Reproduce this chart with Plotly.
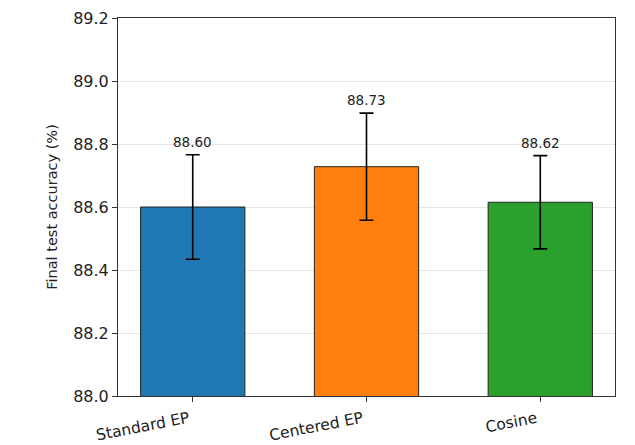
import plotly.graph_objects as go

methods = ["Standard EP", "Centered EP", "Cosine"]
means = [88.60, 88.728, 88.615]
stds = [0.166, 0.170, 0.148]
labels = ["88.60", "88.73", "88.62"]
colors = ["#1f77b4", "#ff7f0e", "#2ca02c"]
yticks = [88.0, 88.2, 88.4, 88.6, 88.8, 89.0, 89.2]

FONT = "DejaVu Sans"

fig = go.Figure()
fig.add_trace(go.Bar(
    x=[0, 1, 2], y=means, width=0.6,
    marker=dict(color=colors, line=dict(color="#222222", width=1)),
    error_y=dict(type="data", array=stds, visible=True, color="black", thickness=1.6, width=7),
))

for i, (m, s, lab) in enumerate(zip(means, stds, labels)):
    fig.add_annotation(x=i, y=m + s, text=lab, showarrow=False, yanchor="bottom",
                       yshift=3, font=dict(family=FONT, size=13.5, color="#222222"))

# page body has an 8px default margin, so the figure is sized to fit the 635x445 window
fig.update_layout(
    width=627, height=437,
    margin=dict(l=110, r=20, t=10, b=49, autoexpand=False),
    paper_bgcolor="white", plot_bgcolor="white",
    showlegend=False,
    font=dict(family=FONT, color="#222222"),
)
fig.update_xaxes(
    range=[-0.43, 2.43], tickvals=[0, 1, 2], ticktext=methods, tickangle=-11,
    ticks="outside", ticklen=5, tickcolor="#333333", automargin=False,
    ticklabelshift=-4, ticklabelstandoff=2,
    showline=True, linecolor="#333333", linewidth=1, mirror=True,
    showgrid=False, zeroline=False, tickfont=dict(family=FONT, size=15.5, color="#222222"),
)
fig.update_yaxes(
    range=[88.0, 89.2], tickvals=yticks, ticktext=[f"{v:.1f}" for v in yticks],
    ticks="outside", ticklen=5, tickcolor="#333333", automargin=False,
    showline=True, linecolor="#333333", linewidth=1, mirror=True,
    showgrid=True, gridcolor="rgba(0,0,0,0.1)", gridwidth=1, zeroline=False,
    tickfont=dict(family=FONT, size=16, color="#222222"),
    title=dict(text="Final test accuracy (%)", font=dict(family=FONT, size=14.5, color="#222222"), standoff=12),
)

fig.write_html("out.html")
